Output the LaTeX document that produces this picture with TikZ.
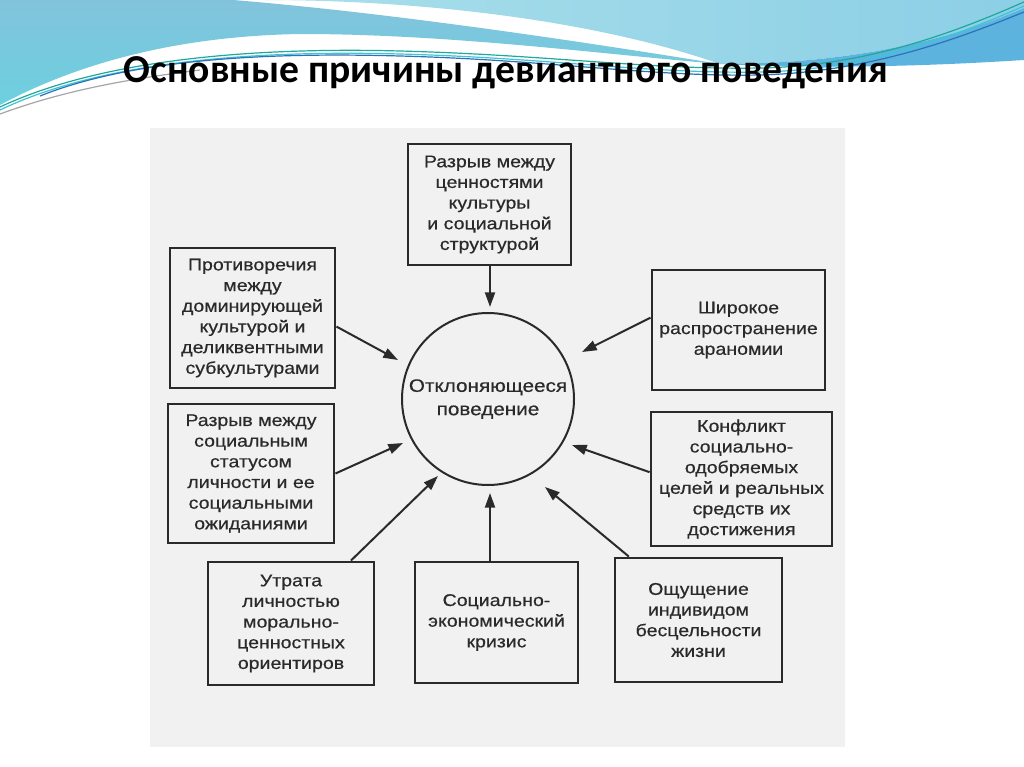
\documentclass[tikz,border=0pt]{standalone}
\usepackage{fontspec}
\setmainfont{Liberation Sans}
\newfontfamily\boxfont[FakeStretch=1.15,FakeBold=0.5]{Liberation Sans}
\newfontfamily\titlefont{Carlito}
\usetikzlibrary{arrows.meta,calc}
\definecolor{ink}{HTML}{2A2A2A}
\definecolor{scanbg}{HTML}{F1F1F1}
\definecolor{midblueA}{HTML}{82C3DC}
\definecolor{midblueB}{HTML}{6CD0DF}
\definecolor{lightblue}{HTML}{A9DFEA}
\definecolor{lightblueB}{HTML}{8CCFE6}
\definecolor{deepblue}{HTML}{5CB4DE}
\definecolor{lineblue}{HTML}{2B72B8}
\definecolor{lineteal}{HTML}{1EA99A}
\definecolor{linecyan}{HTML}{3FC3D8}
\tikzset{
  cause/.style={draw=ink, line width=2.2pt, align=center, inner sep=0pt,
    text=ink, font=\boxfont\fontsize{12.75}{15.5}\selectfont},
  core/.style={draw=ink, line width=1.5pt, circle, inner sep=0pt, align=center,
    text=ink, font=\boxfont\fontsize{13.5}{17.5}\selectfont},
  arr/.style={draw=ink, line width=1.5pt, -{Triangle[length=11pt,width=7.5pt]}},
  wave/.style={line width=0.9pt}
}
\begin{document}
\begin{tikzpicture}[x=0.75pt,y=-0.75pt]
\useasboundingbox (0,0) rectangle (1024,767);
\fill[white] (0,0) rectangle (1024,767);
% --- decorative waves ---
\shade[top color=midblueA, bottom color=midblueB]
  (0,0) -- (233,0) .. controls (380,12) and (560,38) .. (720,64)
  .. controls (600,54) and (450,34) .. (300,34)
  .. controls (180,36) and (80,62) .. (0,105) -- cycle;
\shade[left color=lightblue, right color=lightblueB]
  (262,0) -- (1024,0) -- (1024,8) .. controls (950,40) and (850,64) .. (720,64)
  .. controls (600,22) and (430,0) .. (262,0) -- cycle;
\fill[deepblue]
  (1024,8) .. controls (950,40) and (850,64) .. (720,64)
  .. controls (850,70) and (960,64) .. (1024,60) -- cycle;
\draw[wave, gray!70] (0,114) .. controls (60,92) and (120,80) .. (200,70);
\draw[wave, linecyan] (0,110) .. controls (100,62) and (250,50) .. (400,54)
  .. controls (550,58) and (650,74) .. (760,72) .. controls (870,70) and (960,34) .. (1024,6);
\draw[wave, lineteal] (0,107) .. controls (100,60) and (250,47) .. (400,51)
  .. controls (550,55) and (650,70) .. (760,68) .. controls (870,66) and (960,30) .. (1024,2);
\draw[wave, lineblue] (40,96) .. controls (130,60) and (260,52) .. (400,56)
  .. controls (550,60) and (650,77) .. (760,75) .. controls (870,72) and (960,38) .. (1024,12);
% --- title ---
\node[anchor=base, font=\titlefont\bfseries\fontsize{29.7}{34}\selectfont, text=black]
  (title) at (506,83) {Основные причины девиантного поведения};
% --- scanned area ---
\fill[scanbg] (150,128) rectangle (845,747);
% --- nodes ---
\node[core, minimum size=129pt] (C) at (488,399) {Отклоняющееся\\поведение};
\node[cause, minimum width=122.25pt, minimum height=90.75pt] (T) at (489.5,204.5)
  {Разрыв между\\ценностями\\культуры\\и социальной\\структурой};
\node[cause, minimum width=123.75pt, minimum height=105pt] (L1) at (252.5,318)
  {Противоречия\\между\\доминирующей\\культурой и\\деликвентными\\субкультурами};
\node[cause, minimum width=129.75pt, minimum height=90pt] (R1) at (738.5,330)
  {Широкое\\распространение\\араномии};
\node[cause, minimum width=124.5pt, minimum height=104.25pt] (L2) at (251,473.5)
  {Разрыв между\\социальным\\статусом\\личности и ее\\социальными\\ожиданиями};
\node[cause, minimum width=135.75pt, minimum height=100.5pt] (R2) at (741.5,479)
  {Конфликт\\социально-\\одобряемых\\целей и реальных\\средств их\\достижения};
\node[cause, minimum width=124.5pt, minimum height=92.25pt] (B1) at (291,623.5)
  {Утрата\\личностью\\морально-\\ценностных\\ориентиров};
\node[cause, minimum width=122.25pt, minimum height=90.75pt] (B2) at (496.5,622.5)
  {Социально-\\экономический\\кризис};
\node[cause, minimum width=125.25pt, minimum height=93pt] (B3) at (698.5,620)
  {Ощущение\\индивидом\\бесцельности\\жизни};
% --- arrow tips ---
\coordinate (t1) at (490,307);
\coordinate (t2) at (398,360);
\coordinate (t3) at (582,352);
\coordinate (t4) at (403,443);
\coordinate (t5) at (438,476);
\coordinate (t6) at (490,493);
\coordinate (t7) at (572,445);
\coordinate (t8) at (545,487);
% --- connectors ---
\draw[arr] (T.south -| t1) -- (t1);
\draw[arr] ($(L1.north east)!0.56!(L1.south east)$) -- (t2);
\draw[arr] ($(R1.north west)!0.40!(R1.south west)$) -- (t3);
\draw[arr] (L2.east) -- (t4);
\draw[arr] ($(B1.north west)!0.855!(B1.north east)$) -- (t5);
\draw[arr] (B2.north -| t6) -- (t6);
\draw[arr] ($(R2.north west)!0.45!(R2.south west)$) -- (t7);
\draw[arr] ($(B3.north west)!0.09!(B3.north east)$) -- (t8);
\end{tikzpicture}
\end{document}
